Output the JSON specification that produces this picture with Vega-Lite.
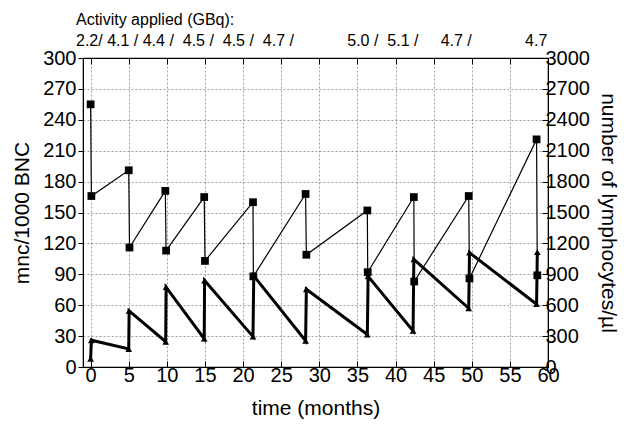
{
  "$schema": "https://vega.github.io/schema/vega-lite/v6.json",
  "width": 465,
  "height": 309,
  "autosize": {"type": "none"},
  "padding": {"left": 83, "top": 58, "right": 80, "bottom": 62},
  "background": "white",
  "config": {
    "font": "Liberation Sans",
    "view": {"stroke": "black", "strokeWidth": 1.2},
    "axis": {
      "labelFont": "Liberation Sans",
      "titleFont": "Liberation Sans",
      "labelFontSize": 20,
      "titleFontSize": 21,
      "titleFontWeight": "normal",
      "labelColor": "black",
      "titleColor": "black",
      "domainColor": "black",
      "tickColor": "black",
      "gridColor": "#666666",
      "gridDash": [2, 2],
      "gridWidth": 0.7,
      "gridOpacity": 0.9
    },
    "title": {"font": "Liberation Sans", "subtitleFont": "Liberation Sans", "color": "black", "subtitleColor": "black"}
  },
  "title": {
    "text": "Activity applied (GBq):",
    "subtitle": "2.2/\u00a04.1\u00a0/\u00a04.4\u00a0/\u00a0\u00a04.5\u00a0/\u00a0\u00a04.5\u00a0/\u00a0\u00a04.7\u00a0/\u00a0\u00a0\u00a0\u00a0\u00a0\u00a0\u00a0\u00a0\u00a0\u00a0\u00a0\u00a05.0\u00a0/\u00a0\u00a05.1\u00a0/\u00a0\u00a0\u00a0\u00a0\u00a04.7\u00a0/\u00a0\u00a0\u00a0\u00a0\u00a0\u00a0\u00a0\u00a0\u00a0\u00a0\u00a0\u00a04.7",
    "anchor": "start",
    "frame": "group",
    "dx": -7,
    "offset": -1,
    "fontSize": 16,
    "fontWeight": "normal",
    "subtitleFontSize": 16,
    "subtitlePadding": 5
  },
  "datasets": {
    "mnc": [
      {"i": 1, "t": 0, "v": 255},
      {"i": 2, "t": 0.1, "v": 166},
      {"i": 3, "t": 5.0, "v": 191},
      {"i": 4, "t": 5.1, "v": 116},
      {"i": 5, "t": 9.8, "v": 171},
      {"i": 6, "t": 9.9, "v": 113},
      {"i": 7, "t": 14.9, "v": 165},
      {"i": 8, "t": 15.0, "v": 103},
      {"i": 9, "t": 21.3, "v": 160},
      {"i": 10, "t": 21.35, "v": 88},
      {"i": 11, "t": 28.2, "v": 168},
      {"i": 12, "t": 28.3, "v": 109},
      {"i": 13, "t": 36.3, "v": 152},
      {"i": 14, "t": 36.35, "v": 92},
      {"i": 15, "t": 42.4, "v": 165},
      {"i": 16, "t": 42.45, "v": 83},
      {"i": 17, "t": 49.6, "v": 166},
      {"i": 18, "t": 49.7, "v": 86},
      {"i": 19, "t": 58.5, "v": 221},
      {"i": 20, "t": 58.6, "v": 89}
    ],
    "lym": [
      {"i": 1, "t": 0, "v": 80},
      {"i": 2, "t": 0.1, "v": 260},
      {"i": 3, "t": 5.0, "v": 175},
      {"i": 4, "t": 5.05, "v": 545},
      {"i": 5, "t": 9.85, "v": 245},
      {"i": 6, "t": 9.9, "v": 775},
      {"i": 7, "t": 14.9, "v": 275},
      {"i": 8, "t": 14.95, "v": 840},
      {"i": 9, "t": 21.3, "v": 295},
      {"i": 10, "t": 21.4, "v": 885},
      {"i": 11, "t": 28.2, "v": 255},
      {"i": 12, "t": 28.3, "v": 755},
      {"i": 13, "t": 36.3, "v": 315},
      {"i": 14, "t": 36.4, "v": 880},
      {"i": 15, "t": 42.3, "v": 350},
      {"i": 16, "t": 42.4, "v": 1045},
      {"i": 17, "t": 49.6, "v": 570},
      {"i": 18, "t": 49.7, "v": 1110},
      {"i": 19, "t": 58.5, "v": 610},
      {"i": 20, "t": 58.6, "v": 1115}
    ]
  },
  "layer": [
    {
      "data": {"name": "mnc"},
      "mark": {
        "type": "line",
        "color": "black",
        "strokeWidth": 1.2,
        "point": {"shape": "square", "filled": true, "color": "black", "size": 60, "opacity": 1}
      },
      "encoding": {
        "x": {
          "field": "t",
          "type": "quantitative",
          "scale": {"domain": [-1, 60], "nice": false, "zero": false},
          "axis": {
            "title": "time (months)",
            "values": [0, 5, 10, 15, 20, 25, 30, 35, 40, 45, 50, 55, 60],
            "tickSize": -6,
            "labelPadding": 4,
            "titlePadding": 12,
            "grid": true,
            "labelFlush": false
          }
        },
        "y": {
          "field": "v",
          "type": "quantitative",
          "scale": {"domain": [0, 300], "nice": false},
          "axis": {
            "title": "mnc/1000 BNC",
            "values": [0, 30, 60, 90, 120, 150, 180, 210, 240, 270, 300],
            "tickSize": 5,
            "labelPadding": 2,
            "titlePadding": 10,
            "grid": true,
            "labelFlush": false
          }
        },
        "order": {"field": "i", "type": "quantitative"}
      }
    },
    {
      "data": {"name": "lym"},
      "mark": {
        "type": "line",
        "color": "black",
        "strokeWidth": 3,
        "point": {"shape": "triangle-up", "filled": true, "color": "black", "size": 45, "opacity": 1}
      },
      "encoding": {
        "x": {
          "field": "t",
          "type": "quantitative",
          "axis": {
            "orient": "top",
            "title": null,
            "labels": false,
            "values": [0, 5, 10, 15, 20, 25, 30, 35, 40, 45, 50, 55, 60],
            "tickSize": -6,
            "grid": false
          }
        },
        "y": {
          "field": "v",
          "type": "quantitative",
          "scale": {"domain": [0, 3000], "nice": false},
          "axis": {
            "orient": "right",
            "title": "number of lymphocytes/µl",
            "format": "d",
            "values": [0, 300, 600, 900, 1200, 1500, 1800, 2100, 2400, 2700, 3000],
            "tickSize": -6,
            "labelPadding": 3,
            "titlePadding": 8,
            "grid": false,
            "labelFlush": false
          }
        },
        "order": {"field": "i", "type": "quantitative"}
      }
    }
  ],
  "resolve": {"scale": {"y": "independent"}, "axis": {"x": "independent", "y": "independent"}}
}
